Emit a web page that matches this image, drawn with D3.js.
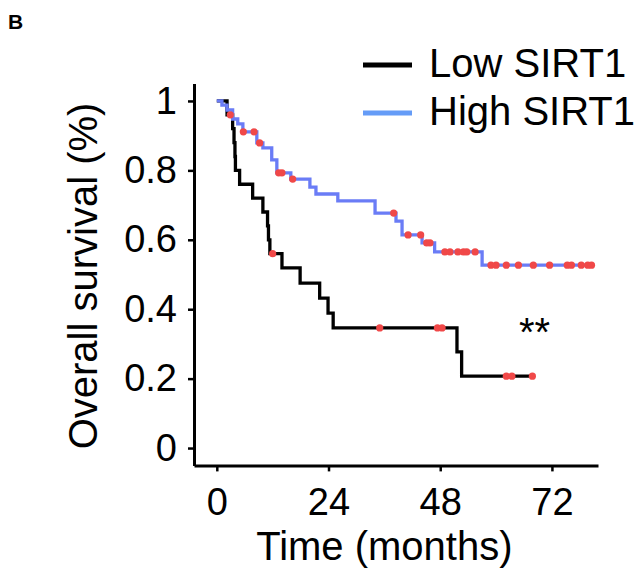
<!DOCTYPE html>
<html>
<head>
<meta charset="utf-8">
<script src="https://cdn.jsdelivr.net/npm/d3@7"></script>
<style>
  body { margin: 0; background: #fff; }
  svg text { font-family: "Liberation Sans", Arial, sans-serif; }
</style>
</head>
<body>
<div id="chart"></div>
<script>
// Kaplan-Meier steps (months, survival fraction)
const lowTime = [2.2, 3.4, 3.7, 3.9, 4.0, 4.9, 7.7, 9.9, 10.9, 11.1, 11.4, 14.0, 17.9, 22.1, 23.9, 25.0, 51.6, 52.6]
const lowSurv = [0.96, 0.92, 0.88, 0.84, 0.80, 0.76, 0.72, 0.68, 0.64, 0.60, 0.56, 0.519, 0.475, 0.432, 0.389, 0.346, 0.277, 0.207]
const lowCensor = [2.9, 12.0, 35.0, 47.4, 48.4, 62.2, 63.4, 67.8]
const lowEnd = 67.8

const highTime = [1.1, 2.2, 3.4, 4.5, 5.6, 8.6, 9.9, 11.8, 12.9, 15.9, 20.0, 21.3, 26.0, 34.0, 38.5, 39.8, 44.1, 46.8, 57.0]
const highSurv = [0.988, 0.974, 0.948, 0.934, 0.911, 0.879, 0.865, 0.830, 0.793, 0.775, 0.752, 0.732, 0.712, 0.677, 0.654, 0.614, 0.591, 0.565, 0.527]
const highCensor = [5.7, 8.0, 9.2, 13.3, 14.0, 16.3, 38.0, 41.1, 43.8, 45.1, 45.8, 49.0, 50.1, 51.8, 53.0, 53.7, 55.5,
  58.9, 60.0, 62.2, 64.8, 68.0, 71.5, 75.3, 76.2, 78.3, 79.7, 80.5]
const highEnd = 80.6

const xTicks = [0, 24, 48, 72]
const yTicks = [0, 0.2, 0.4, 0.6, 0.8, 1]
const groups = ['Low SIRT1', 'High SIRT1']

const width = 644
const height = 576

const svg = d3.select('#chart').append('svg')
  .attr('width', width)
  .attr('height', height)

const x = d3.scaleLinear().domain([-4.9, 81.9]).range([194, 598])
const y = d3.scaleLinear().domain([-0.05, 1.05]).range([465.4, 83.6])

function steps(times, surv, end) {
  const pts = [[0, 1]]
  times.forEach((t, i) => pts.push([t, surv[i]]))
  pts.push([end, surv[surv.length - 1]])
  return pts
}

function survAt(times, surv, t) {
  let s = 1
  times.forEach((tt, i) => { if (tt <= t) s = surv[i] })
  return s
}

const line = d3.line()
  .x(d => x(d[0]))
  .y(d => y(d[1]))
  .curve(d3.curveStepAfter)

// axes
const xAxis = svg.append('g')
  .attr('transform', `translate(0, ${y(-0.05)})`)
  .call(d3.axisBottom(x).tickValues(xTicks).tickSize(6).tickSizeOuter(0).tickPadding(17))
const yAxis = svg.append('g')
  .attr('transform', `translate(${x(-4.9)}, 0)`)
  .call(d3.axisLeft(y).tickValues(yTicks).tickFormat(d3.format('')).tickSize(6).tickSizeOuter(0).tickPadding(11))

;[xAxis, yAxis].forEach(g => {
  g.select('.domain').attr('stroke', '#000').attr('stroke-width', 3)
  g.selectAll('.tick line').attr('stroke', '#000').attr('stroke-width', 2.5)
  g.selectAll('.tick text').attr('font-size', 38).attr('fill', '#000')
    .style('font-family', '"Liberation Sans", Arial, sans-serif')
})

// curves
const curves = [
  { pts: steps(lowTime, lowSurv, lowEnd), color: '#000' },
  { pts: steps(highTime, highSurv, highEnd), color: '#6a7cf6' }
]
svg.selectAll('path.km')
  .data(curves)
  .enter().append('path')
  .attr('class', 'km')
  .attr('d', d => line(d.pts))
  .attr('fill', 'none')
  .attr('stroke', d => d.color)
  .attr('stroke-width', 3.3)

// censor marks
const censors = lowCensor.map(t => [t, survAt(lowTime, lowSurv, t)])
  .concat(highCensor.map(t => [t, survAt(highTime, highSurv, t)]))
svg.selectAll('circle.censor')
  .data(censors)
  .enter().append('circle')
  .attr('class', 'censor')
  .attr('cx', d => x(d[0]))
  .attr('cy', d => y(d[1]))
  .attr('r', 3.6)
  .attr('fill', '#f04848')

// legend
const legendColor = ['#000', '#659cf7']
const legend = svg.selectAll('g.legend')
  .data(groups)
  .enter().append('g')
  .attr('class', 'legend')
  .attr('transform', (d, i) => `translate(363, ${65 + i * 48})`)
legend.append('line')
  .attr('x1', 0).attr('x2', 49)
  .attr('stroke', (d, i) => legendColor[i])
  .attr('stroke-width', 5)
legend.append('text')
  .attr('x', 66).attr('y', 12)
  .attr('font-size', 40)
  .text(d => d)

// labels
svg.append('text')
  .attr('x', 8).attr('y', 29)
  .attr('font-size', 21).attr('font-weight', 'bold')
  .text('B')

svg.append('text')
  .attr('x', 519).attr('y', 346)
  .attr('font-size', 40)
  .text('**')

svg.append('text')
  .attr('x', x(36)).attr('y', 560)
  .attr('text-anchor', 'middle')
  .attr('font-size', 40)
  .text('Time (months)')

svg.append('text')
  .attr('transform', 'translate(97, 276) rotate(-90)')
  .attr('text-anchor', 'middle')
  .attr('font-size', 40)
  .text('Overall survival (%)')
</script>
</body>
</html>
